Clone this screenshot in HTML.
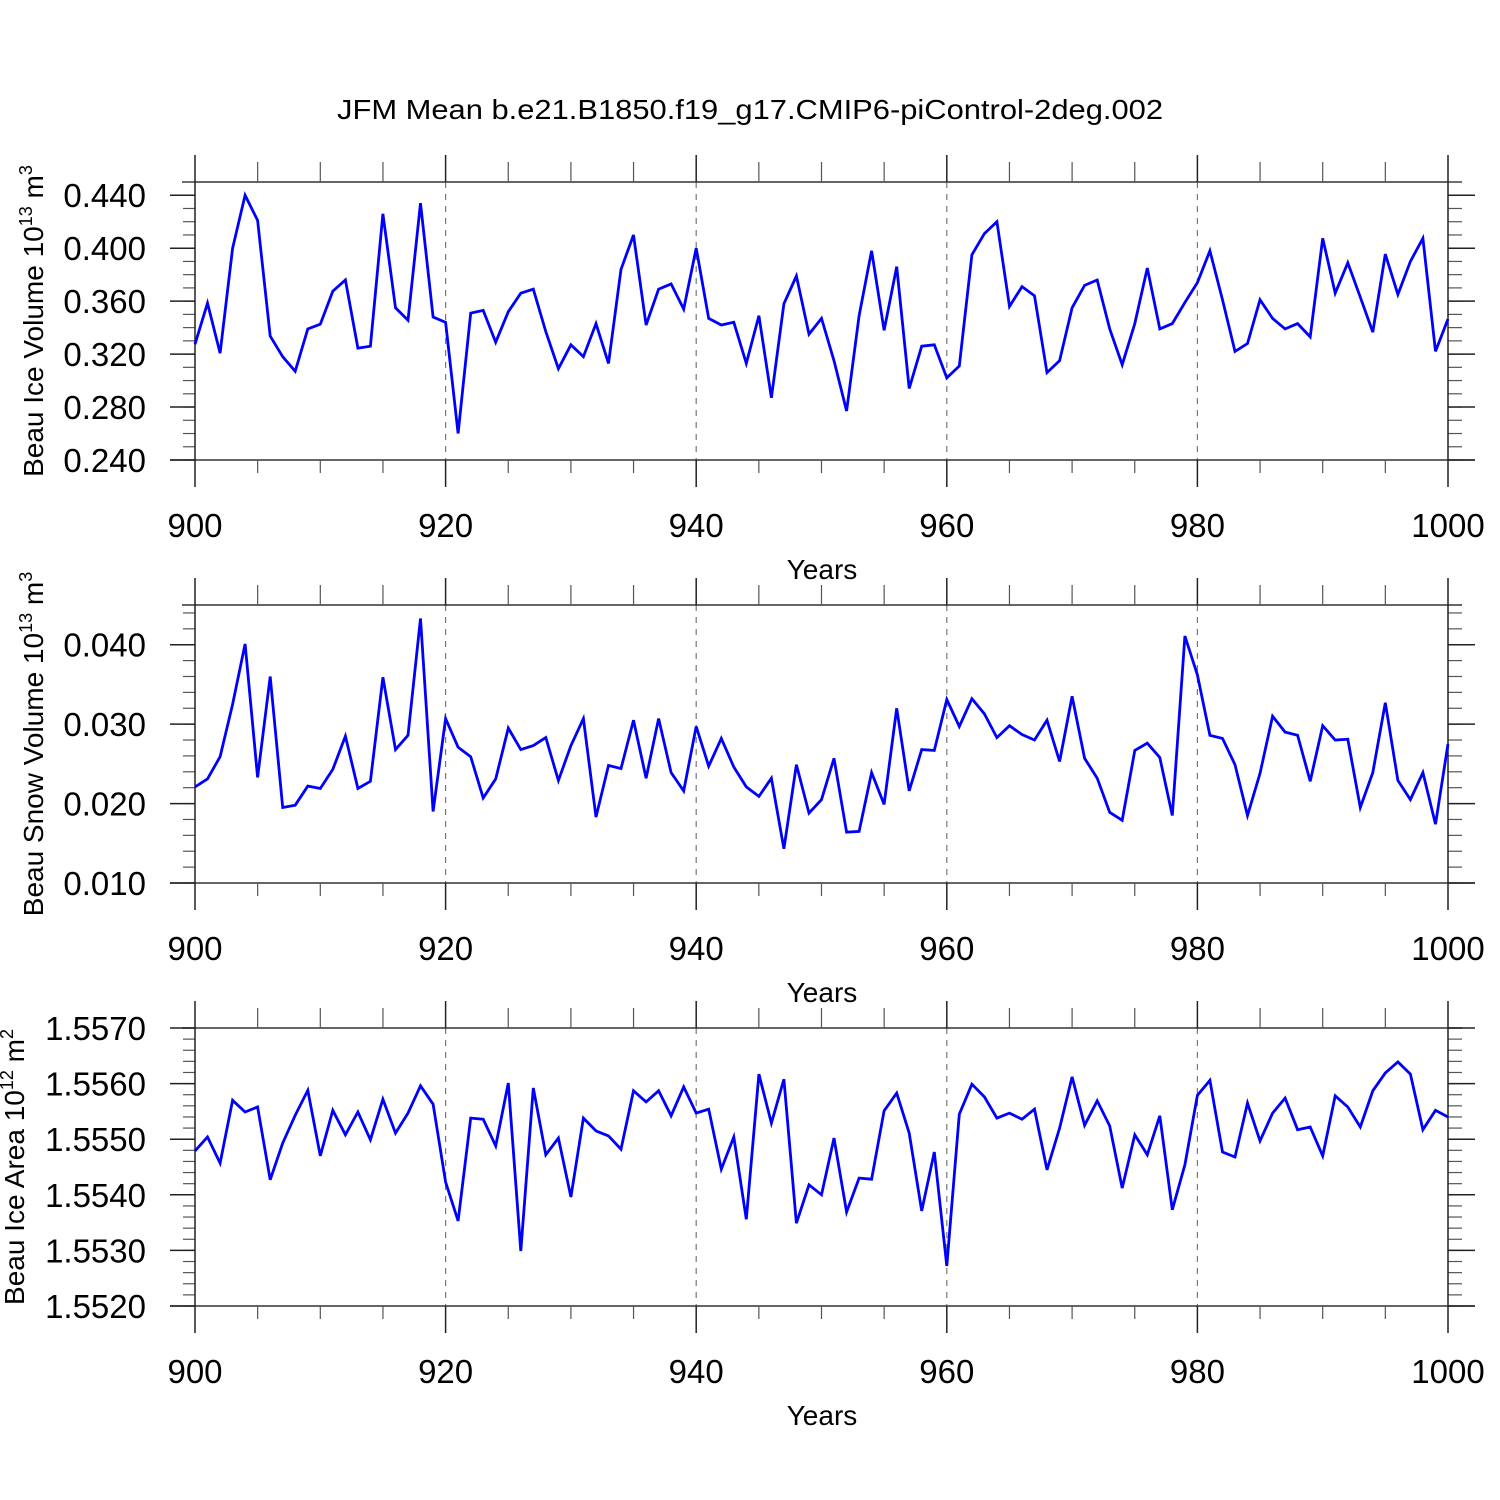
<!DOCTYPE html>
<html><head><meta charset="utf-8"><style>
html,body{margin:0;padding:0;background:#fff;}
svg{display:block;font-family:"Liberation Sans",sans-serif;}
</style></head><body>
<svg id="chart" width="1500" height="1500" viewBox="0 0 1500 1500" xmlns="http://www.w3.org/2000/svg">
<rect x="0" y="0" width="1500" height="1500" fill="#fff"/>
<text x="337" y="119" font-size="28" textLength="826" lengthAdjust="spacingAndGlyphs">JFM Mean b.e21.B1850.f19_g17.CMIP6-piControl-2deg.002</text>
</svg>
<script>
const years = [];
for (let y = 900; y <= 1000; y++) years.push(y);
const xTickLabels = ['900','920','940','960','980','1000'];
const iceVolume = [0.3275,0.3585,0.3207,0.400,0.440,0.421,0.3336,0.318,0.307,0.339,0.3426,0.3675,0.376,0.3245,0.326,0.426,0.355,0.3456,0.434,0.348,0.344,0.260,0.351,0.353,0.329,
0.352,0.366,0.369,0.337,0.309,0.327,0.318,0.343,0.313,0.384,0.410,0.342,0.369,0.373,0.354,0.400,0.347,0.342,0.344,0.313,0.349,0.287,0.358,0.379,0.335,0.347,0.315,0.277,0.349,0.398,0.338,0.386,0.294,0.326,0.327,
0.302,0.311,0.395,0.411,0.420,0.356,0.371,0.364,0.306,0.315,0.355,0.372,0.376,0.339,0.312,0.343,0.385,0.339,0.343,0.359,0.374,0.398,0.361,0.322,0.328,0.361,0.347,0.339,0.343,0.333,
0.4075,0.366,0.389,0.363,0.3366,0.3955,0.365,0.390,0.4075,0.322,0.3465];
const snowVolume = [0.0221,0.0231,0.0259,0.0325,0.0401,0.0233,0.0360,0.0195,0.0198,0.0222,0.0219,0.0243,0.0285,0.0219,0.0228,0.0359,0.0268,0.0286,0.0433,0.0190,
0.0307,0.0271,0.0259,0.0207,0.0231,0.0295,0.0268,0.0273,0.0283,0.0229,0.0273,0.0307,0.0183,0.0248,0.0244,0.0305,0.0232,0.0307,0.0239,0.0216,
0.0297,0.0247,0.0282,0.0246,0.0221,0.0209,0.0232,0.0143,0.0249,0.0188,0.0205,0.0257,0.0164,0.0165,0.0239,0.0199,0.0320,0.0216,0.0268,0.0267,
0.0331,0.0297,0.0332,0.0313,0.0283,0.0298,0.0287,0.0280,0.0305,0.0253,0.0335,0.0257,0.0232,0.0189,0.0179,0.0267,0.0276,0.0258,0.0185,0.0411,
0.0362,0.0286,0.0282,0.0249,0.0185,0.0238,0.0310,0.0290,0.0286,0.0228,0.0298,0.0280,0.0281,0.0195,0.0239,0.0327,0.0229,0.0205,0.0239,0.0174,0.0275];
const iceArea = [1.55479,1.55504,1.55457,1.55570,1.55549,1.55558,1.55427,1.55493,1.55543,1.55588,1.55470,1.55552,1.55508,1.55549,1.55499,1.55572,1.55511,1.55547,1.55596,1.55563,
1.55423,1.55353,1.55538,1.55536,1.55488,1.55601,1.55299,1.55592,1.55472,1.55502,1.55396,1.55538,1.55515,1.55506,1.55482,1.55587,1.55567,1.55587,1.55542,1.55594,
1.55547,1.55554,1.55446,1.55504,1.55356,1.55617,1.55529,1.55608,1.55349,1.55418,1.55400,1.55502,1.55369,1.55430,1.55428,1.55551,1.55583,1.55511,1.55371,1.55477,
1.55272,1.55545,1.55599,1.55576,1.55538,1.55547,1.55536,1.55554,1.55445,1.55520,1.55612,1.55525,1.55569,1.55524,1.55412,1.55508,1.55472,1.55542,1.55373,1.55454,
1.55579,1.55606,1.55477,1.55468,1.55565,1.55497,1.55547,1.55574,1.55517,1.55522,1.55470,1.55578,1.55558,1.55522,1.55587,1.55619,1.55639,1.55617,1.55517,1.55552,1.55540];
const iceVolTicks = ['0.240','0.280','0.320','0.360','0.400','0.440'];
const snowVolTicks = ['0.010','0.020','0.030','0.040'];
const iceAreaTicks = ['1.5520','1.5530','1.5540','1.5550','1.5560','1.5570'];

const NS='http://www.w3.org/2000/svg';
const svg=document.getElementById('chart');
function mk(tag,attrs,parent){const e=document.createElementNS(NS,tag);for(const k in attrs)e.setAttribute(k,attrs[k]);(parent||svg).appendChild(e);return e;}
const X0=195,X1=1448;
function xs(v){return X0+(v-900)*(X1-X0)/100;}

const panels=[
 {name:'ice-volume',top:182,ymin:0.24,ymax:0.45,minor:0.01,ticks:iceVolTicks,data:iceVolume,title:'Beau Ice Volume 10',sup:'13',unit:' m',usup:'3',tx:33},
 {name:'snow-volume',top:605,ymin:0.010,ymax:0.045,minor:0.002,ticks:snowVolTicks,data:snowVolume,title:'Beau Snow Volume 10',sup:'13',unit:' m',usup:'3',tx:33},
 {name:'ice-area',top:1028,ymin:1.552,ymax:1.557,minor:0.0002,ticks:iceAreaTicks,data:iceArea,title:'Beau Ice Area 10',sup:'12',unit:' m',usup:'2',tx:14}
];
panels.forEach(p=>{
 const T=p.top,B=T+278;
 const ys=v=>B-(v-p.ymin)*(B-T)/(p.ymax-p.ymin);
 const g=mk('g',{});
 
 
 for(let yr=920;yr<=980;yr+=20){
  const l=mk('line',{x1:xs(yr),x2:xs(yr),y1:T,y2:B,stroke:'#777','stroke-width':1.2,'stroke-dasharray':'6,6'},g);
  
  
 }
 const t1=mk('line',{x1:182,x2:1462,y1:T,y2:T,stroke:'#333','stroke-width':1.5},g);
 
 
 const b1=mk('line',{x1:170,x2:1475,y1:B,y2:B,stroke:'#333','stroke-width':1.5},g);
 
 
 const n=Math.round((p.ymax-p.ymin)/p.minor);
 for(let i=0;i<=n;i++){
  const y=ys(p.ymin+i*p.minor);
  mk('line',{x1:183,x2:195,y1:y,y2:y,stroke:'#555','stroke-width':1.2},g);
  mk('line',{x1:1448,x2:1462,y1:y,y2:y,stroke:'#555','stroke-width':1.2},g);
 }
 p.ticks.forEach(t=>{
  const y=ys(parseFloat(t));
  mk('line',{x1:170,x2:195,y1:y,y2:y,stroke:'#222','stroke-width':1.5},g);
  mk('line',{x1:1448,x2:1475,y1:y,y2:y,stroke:'#222','stroke-width':1.5},g);
  const tx=mk('text',{x:146,y:y+12,'font-size':33,'text-anchor':'end'},g);
  tx.textContent=t;
  
  
 });
 for(let yr=905;yr<1000;yr+=5){
  if(yr%20===0)continue;
  mk('line',{x1:xs(yr),x2:xs(yr),y1:T-20,y2:T,stroke:'#555','stroke-width':1.2},g);
  mk('line',{x1:xs(yr),x2:xs(yr),y1:B,y2:B+13,stroke:'#555','stroke-width':1.2},g);
 }
 xTickLabels.forEach(lb=>{
  const v=parseFloat(lb);
  const x=xs(v);
  if(v===900||v===1000){
   mk('line',{x1:x,x2:x,y1:T-27,y2:B+27,stroke:'#222','stroke-width':1.5},g);
  } else {
   mk('line',{x1:x,x2:x,y1:T-27,y2:T,stroke:'#222','stroke-width':1.5},g);
   mk('line',{x1:x,x2:x,y1:B,y2:B+27,stroke:'#222','stroke-width':1.5},g);
  }
  const tx=mk('text',{x:x,y:B+77,'font-size':33,'text-anchor':'middle'},g);
  tx.textContent=lb;
  
  
 });
 const xt=mk('text',{x:822,y:B+119,'font-size':28,'text-anchor':'middle'},g);
 xt.textContent='Years';
 
 
 const cy=(T+B)/2;
 const yt=mk('text',{x:0,y:0,'font-size':28,'text-anchor':'middle',transform:`translate(${p.tx+10},${cy}) rotate(-90)`},g);
 
 
 const s1=mk('tspan',{},yt);s1.textContent=p.title;
 const s2=mk('tspan',{dy:-11,'font-size':18},yt);s2.textContent=p.sup;
 const s3=mk('tspan',{dy:11},yt);s3.textContent=p.unit;
 const s4=mk('tspan',{dy:-11,'font-size':18},yt);s4.textContent=p.usup;
 const pts=p.data.map((v,i)=>xs(years[i]).toFixed(1)+','+ys(v).toFixed(1)).join(' ');
 const pl=mk('polyline',{points:pts,fill:'none',stroke:'#0000ff','stroke-width':2.8,'stroke-linejoin':'miter'},g);
 
 
});
</script>
</body></html>
